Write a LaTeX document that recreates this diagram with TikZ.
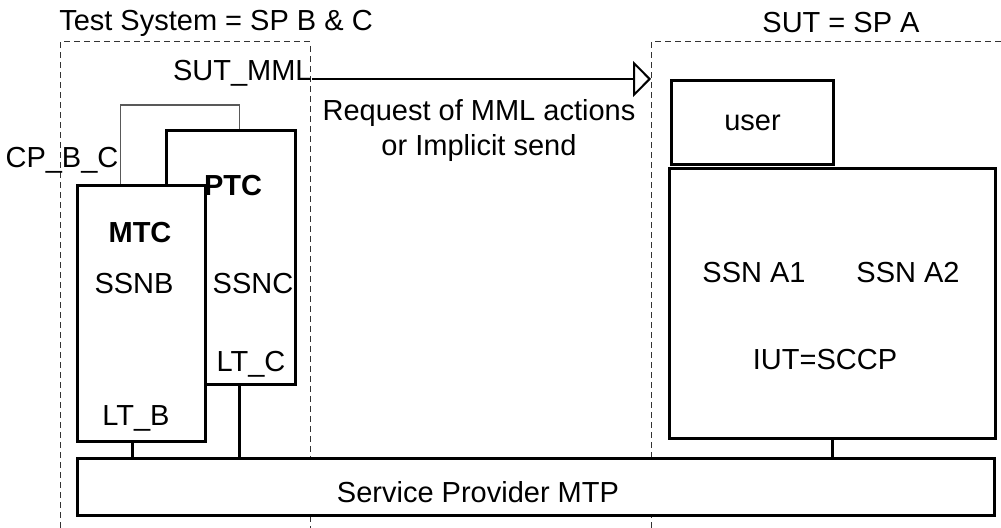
\documentclass[tikz,border=0pt]{standalone}
\usepackage{fontspec}
\setmainfont{Liberation Sans}
\usepackage{tikz}
\usetikzlibrary{arrows.meta, positioning}

\begin{document}
\begin{tikzpicture}[x=0.5pt, y=-0.5pt, font=\fontsize{14.5}{17.5}\selectfont]
        % Styles
        \tikzstyle{box} = [rectangle, draw, line width=1.5pt, anchor=north west, inner sep=0pt, fill=white]
        \tikzstyle{txt} = [inner sep=0pt, align=center]
        \tikzstyle{frame} = [draw, line width=0.5pt, dash pattern=on 3pt off 2pt, black!80]
        \tikzstyle{link} = [draw, line width=1.5pt]
        \tikzstyle{cpline} = [draw, line width=0.75pt, black!65]
        \tikzstyle{line} = [draw, line width=1pt, -{Triangle[open, length=9pt, width=18pt, line width=1pt]}]

        \useasboundingbox (0,0) rectangle (1001,528);

        % Frames
        \path [frame] (60,528) -- (60,42) -- (310,42) -- (310,528);
        \path [frame] (651,528) -- (651,42) -- (1001,42);
        \node [txt] (testsys) at (216,23) {Test System = SP B \& C};
        \node [txt] (sut) at (841,23) {SUT = SP A};

        % Nodes (sizes in pt, 1px = 0.5pt)
        \node [box, minimum width=64.5pt, minimum height=127pt] (PTC) at (165,129) {};
        \node [box, minimum width=64pt, minimum height=128pt] (MTC) at (76,184) {};
        \node [box, minimum width=458.5pt, minimum height=28.5pt] (MTP) at (76,457) {};
        \node [box, minimum width=81pt, minimum height=42pt] (user) at (670,79) {user};
        \node [box, minimum width=163pt, minimum height=135pt] (SCCP) at (668,167) {};

        \node [txt, font=\fontsize{14.5}{17.5}\selectfont\bfseries] (ptclabel) at (233,186) {PTC};
        \node [txt, font=\fontsize{14.5}{17.5}\selectfont\bfseries] (mtclabel) at (140,233) {MTC};
        \node [txt] (ssnb) at (134,284) {SSNB};
        \node [txt] (ssnc) at (253,284) {SSNC};
        \node [txt] (ltc) at (251,364) {LT\_C};
        \node [txt] (ltb) at (136,418) {LT\_B};
        \node [txt] (cpbc) at (62,160) {CP\_B\_C};
        \node [txt] (ssna1) at (754,273) {SSN A1};
        \node [txt] (ssna2) at (908,273) {SSN A2};
        \node [txt] (iut) at (825,360) {IUT=SCCP};
        \node [txt] (mtplabel) at (478,492) {Service Provider MTP};
        \node [txt, anchor=base east] (SUT_MML) at (312,81) {SUT\_MML};
        \node [txt] (request) at (479,131) {Request of MML actions\\or Implicit send};
        \coordinate (mmlend) at (651,79);

        % Paths
        \path [line] (SUT_MML.east |- mmlend) -- (mmlend);
        \path [cpline] ([xshift=-10.5pt]MTC.north) -- ++(0,-79) -| ([xshift=4.25pt]PTC.north);
        \path [link] ([xshift=-4.5pt]MTC.south) -- ([xshift=-4.5pt]MTC.south |- MTP.north);
        \path [link] ([xshift=4.25pt]PTC.south) -- ([xshift=4.25pt]PTC.south |- MTP.north);
        \path [link] (SCCP.south) -- (SCCP.south |- MTP.north);
    \end{tikzpicture}
\end{document}
